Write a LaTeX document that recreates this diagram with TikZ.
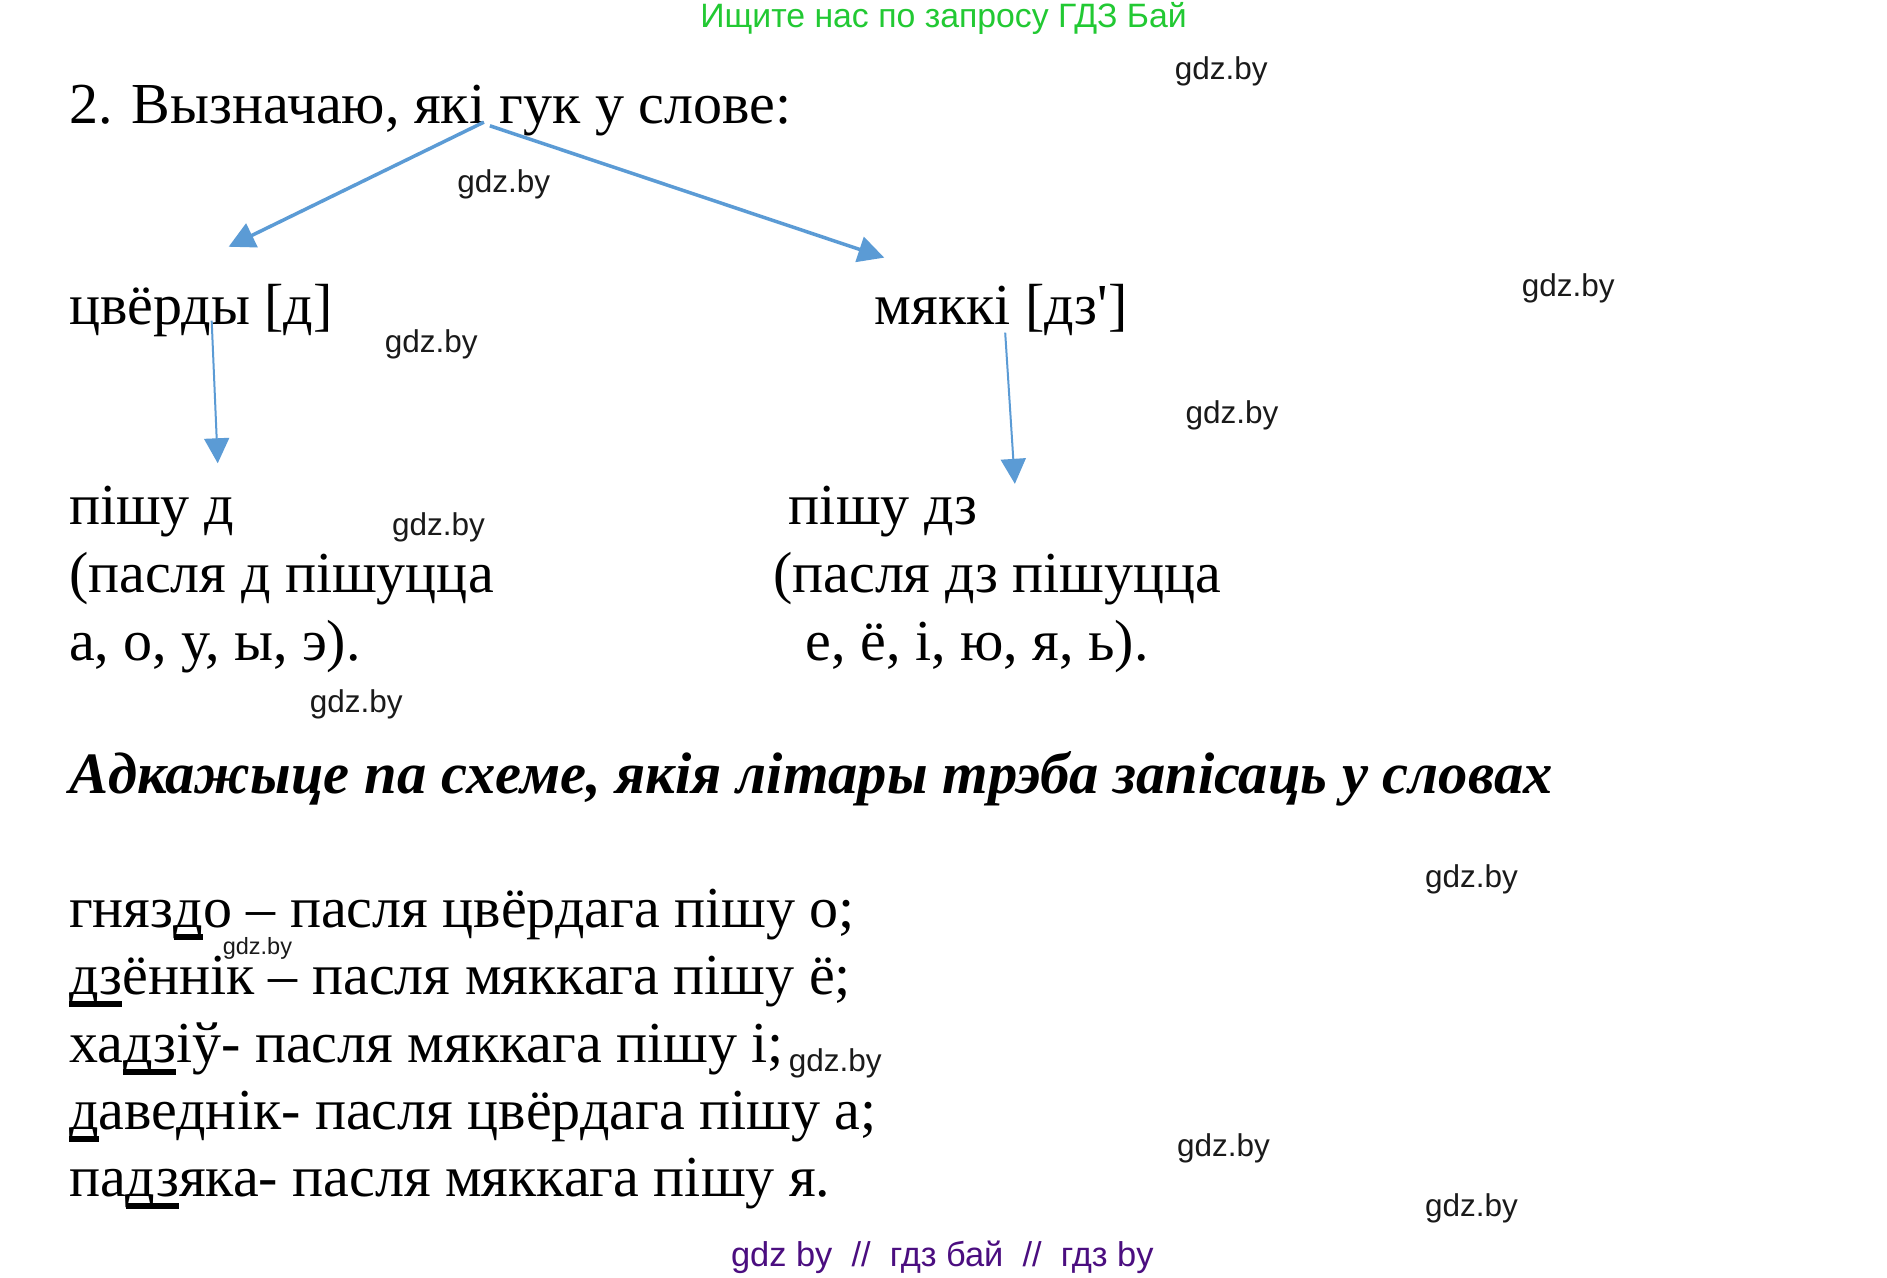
\documentclass[tikz,border=0pt]{standalone}
\usepackage{fontspec}
\setmainfont{Liberation Serif}[Ligatures=TeXOff]
\newfontfamily\wmfont{Liberation Sans}
\usetikzlibrary{arrows.meta}
\definecolor{arrowblue}{HTML}{5B9BD5}
\definecolor{wmgreen}{HTML}{22C933}
\definecolor{wmpurple}{HTML}{4B0E80}
\definecolor{wmgray}{HTML}{1A1A1A}
\newcommand\ulx[1]{\setbox0\hbox{#1}\rlap{\rule[-12.5pt]{\wd0}{6pt}}#1}
\tikzset{
  txt/.style={anchor=base west, inner sep=0pt, font=\fontsize{58}{58}\selectfont},
  bitxt/.style={anchor=base west, inner sep=0pt, font=\fontsize{58.6}{58.6}\selectfont\bfseries\itshape},
  wm/.style={anchor=base west, inner sep=0pt, font=\wmfont\fontsize{31.5}{31.5}\selectfont, text=wmgray},
  wmsmall/.style={anchor=base west, inner sep=0pt, font=\wmfont\fontsize{23.5}{23.5}\selectfont, text=wmgray},
  banner/.style={anchor=base, inner sep=0pt, font=\wmfont\fontsize{33.8}{33.8}\selectfont},
  banner2/.style={anchor=base, inner sep=0pt, font=\wmfont\fontsize{34.4}{34.4}\selectfont},
  arr/.style={draw=arrowblue, line width=3.5pt, -{Triangle[length=26pt,width=26pt]}},
  varr/.style={draw=arrowblue, line width=2pt, -{Triangle[length=25pt,width=25pt]}},
}
\begin{document}
\begin{tikzpicture}[x=1.2096pt, y=-1.2096pt]
\useasboundingbox[fill=white] (0,0) rectangle (1560,1056.5);

% banners
\node[banner, text=wmgreen] (top) at (780,23) {Ищите нас по запросу ГДЗ Бай};
\node[banner2, text=wmpurple] (bottom) at (779,1047) {gdz by~~//~~гдз бай~~//~~гдз by};

% scheme
\node[txt] (q) at (57,102) {2. Вызначаю, які гук у слове:};
\node[txt] (hard) at (57,268) {цвёрды [д]};
\node[txt] (soft) at (723,268) {мяккі [дз']};

\node[txt] (hd1) at (57,434) {пішу д};
\node[txt] (hd2) at (57,490) {(пасля д пішуцца};
\node[txt] (hd3) at (57,546) {а, о, у, ы, э).};

\node[txt] (sd1) at (652,434) {пішу дз};
\node[txt] (sd2) at (639,490) {(пасля дз пішуцца};
\node[txt] (sd3) at (666,546) {е, ё, і, ю, я, ь).};

\coordinate (a1s) at (400,101);
\coordinate (a1e) at (189,204);
\coordinate (a2s) at (405,104);
\coordinate (a2e) at (731,213);
\coordinate (a3s) at (175,265);
\coordinate (a3e) at (180,383);
\coordinate (a4s) at (831,275);
\coordinate (a4e) at (839,400);
\draw[arr] (a1s) -- (a1e);
\draw[arr] (a2s) -- (a2e);
\draw[varr] (a3s) -- (a3e);
\draw[varr] (a4s) -- (a4e);

% task
\node[bitxt] (task) at (57,656) {Адкажыце па схеме, якія літары трэба запісаць у словах};

\node[txt] (l1) at (57,767) {гняз\ulx{д}о – пасля цвёрдага пішу о;};
\node[txt] (l2) at (57,822.5) {\ulx{дз}ённік – пасля мяккага пішу ё;};
\node[txt] (l3) at (57,878) {ха\ulx{дз}іў- пасля мяккага пішу і;};
\node[txt] (l4) at (57,933.5) {\ulx{д}аведнік- пасля цвёрдага пішу а;};
\node[txt] (l5) at (57,989) {па\ulx{дз}яка- пасля мяккага пішу я.};

% watermarks
\node[wm] (w1) at (971,66) {gdz.by};
\node[wm] (w2) at (378,159) {gdz.by};
\node[wm] (w3) at (1258,245) {gdz.by};
\node[wm] (w4) at (318,291) {gdz.by};
\node[wm] (w5) at (980,350) {gdz.by};
\node[wm] (w6) at (324,443) {gdz.by};
\node[wm] (w7) at (256,589) {gdz.by};
\node[wm] (w8) at (1178,734) {gdz.by};
\node[wmsmall] (w9) at (184,789) {gdz.by};
\node[wm] (w10) at (652,886) {gdz.by};
\node[wm] (w11) at (973,956) {gdz.by};
\node[wm] (w12) at (1178,1006) {gdz.by};
\end{tikzpicture}
\end{document}
